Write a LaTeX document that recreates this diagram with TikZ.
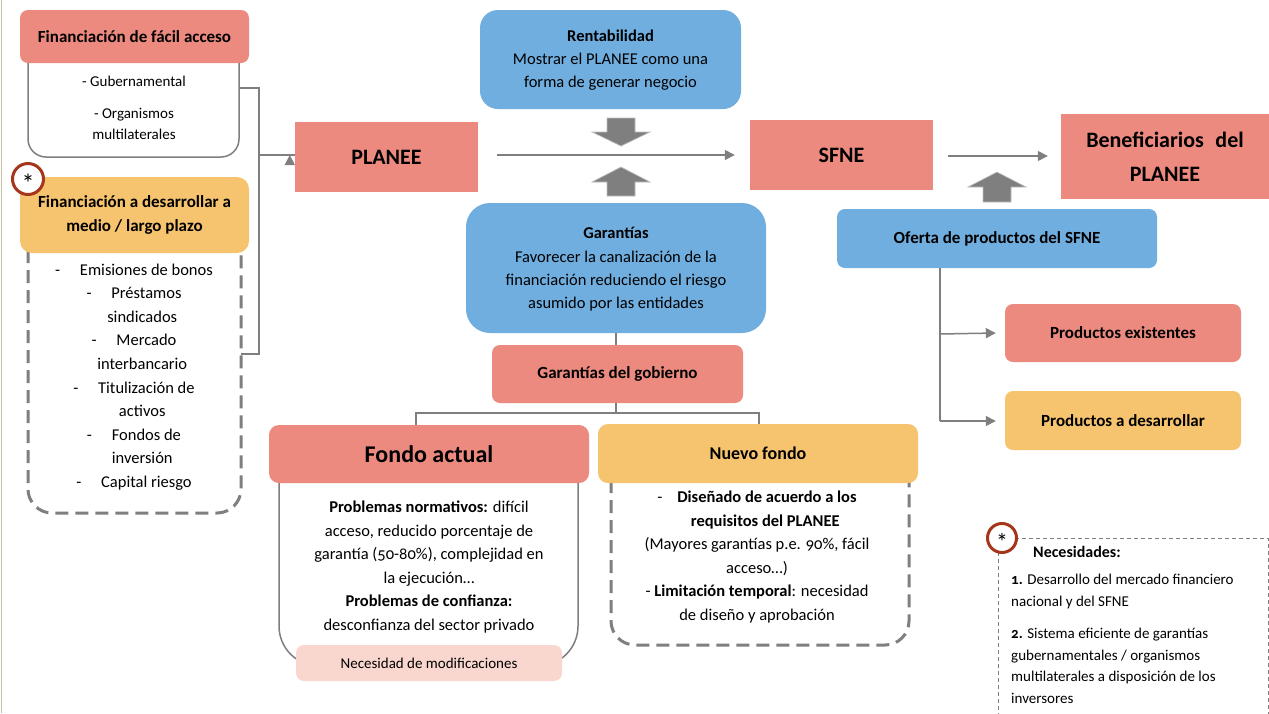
\documentclass[tikz,border=0pt]{standalone}
\usepackage{fontspec}
\setmainfont{Carlito}[Numbers=OldStyle]
\usetikzlibrary{arrows.meta}
\definecolor{cred}{HTML}{EC8A7F}
\definecolor{corange}{HTML}{F6C36F}
\definecolor{cblue}{HTML}{70AEDF}
\definecolor{cpale}{HTML}{F9D7CE}
\definecolor{cgray}{HTML}{7F7F7F}
\definecolor{cring}{HTML}{A5361B}
\definecolor{ctan}{HTML}{C9C0A0}
\newcommand{\fs}[2]{\fontsize{#1}{#2}\selectfont}
\tikzset{
 x=1pt,y=-1pt,
 box/.style={rounded corners=#1,inner sep=0pt,align=center,text=black},
 box/.default=8pt,
 wire/.style={draw=cgray,line width=1.5pt},
 arrowwire/.style={wire,-{Triangle[length=10pt,width=10pt,fill=cgray]}},
 solidpanel/.style={draw=cgray,line width=1.5pt,rounded corners=18pt},
 dashpanel/.style={draw=cgray,line width=3pt,dash pattern=on 13pt off 7pt,rounded corners=24pt},
 blockarrow/.style={fill=cgray,draw=black!25,line width=0.7pt},
 ring/.style={circle,draw=cring,line width=3pt,fill=white,minimum size=31pt,inner sep=0pt},
 txt/.style={inner sep=0pt,align=center,text=black,font=\fs{15}{23.5}},
}
\begin{document}
\begin{tikzpicture}
\useasboundingbox[fill=white] (0,0) rectangle (1269,713);
\draw[ctan,line width=1.5pt] (1.5,0) -- (1.5,713);

% panels behind headers
\draw[solidpanel] (28,60) -- (28,157) -- (239,157) -- (239,60);
\draw[dashpanel] (28,250) -- (28,513) -- (241,513) -- (241,250);
\draw[solidpanel,rounded corners=40pt] (279,480) -- (279,666) -- (578,666) -- (578,480);
\draw[dashpanel] (611,480) -- (611,645) -- (909,645) -- (909,480);

% left headers
\node[box,fill=cred,minimum width=229pt,minimum height=53pt,font=\bfseries\fs{17}{24}] (fa) at (134.5,36.5) {Financiación de fácil acceso};
\node[txt,font=\fs{15}{21}] (fat) at (134,81) {- Gubernamental};
\node[txt,font=\fs{15}{21}] (fat2) at (134,123.5) {- Organismos\\multilaterales};
\node[box=12pt,fill=corange,minimum width=229pt,minimum height=76pt,font=\bfseries\fs{17}{24.5}] (fd) at (134.5,215) {Financiación a desarrollar a\\medio / largo plazo};
\node[ring] (r1) at (28,179) {};
\node[font=\fs{26}{26},inner sep=0pt] (s1) at (28,183) {*};
\node[txt,font=\fs{16.5}{23.6}] (fdt) at (134,377) {-\hspace{1.2em}Emisiones de bonos\\-\hspace{1.2em}Préstamos\\\hspace{1em}sindicados\\-\hspace{1.2em}Mercado\\\hspace{1em}interbancario\\-\hspace{1.2em}Titulización de\\\hspace{1em}activos\\-\hspace{1.2em}Fondos de\\\hspace{1em}inversión\\-\hspace{1.2em}Capital riesgo};

% main row
\node[box=0pt,fill=cred,minimum width=183pt,minimum height=70pt,font=\bfseries\fs{22}{26}] (pl) at (386.5,157) {PLANEE};
\node[box=0pt,fill=cred,minimum width=183pt,minimum height=70pt,font=\bfseries\fs{22}{26}] (sf) at (841.5,155) {SFNE};
\node[box=0pt,fill=cred,minimum width=208pt,minimum height=85pt,font=\bfseries\fs{22}{34}] (be) at (1165,156.5) {Beneficiarios\hspace{.3em} del\\PLANEE};

% bracket
\coordinate (b1) at (239,88);
\coordinate (b2) at (259,88);
\coordinate (b3) at (259,354);
\coordinate (b4) at (241,354);
\coordinate (b5) at (259,155);
\draw[wire] (b1) -- (b2) -- (b3) -- (b4);
\draw[arrowwire] (b5) -- (pl.west |- b5) ++(-5,0);
\coordinate (p1) at (497,155);
\coordinate (s2) at (948,156);
\draw[arrowwire] (p1) -- ([xshift=-15pt]sf.west |- p1);
\draw[arrowwire] (s2) -- ([xshift=-13pt]be.west |- s2);

% blue centre
\node[box=18pt,fill=cblue,minimum width=261pt,minimum height=99pt] (re) at (610.5,59.5) {};
\node[txt,font=\fs{16.5}{23}] (ret) at (610.5,60) {{\bfseries Rentabilidad}\\Mostrar el PLANEE como una\\forma de generar negocio};
\node[box=24pt,fill=cblue,minimum width=300pt,minimum height=130pt] (ga) at (616,268) {};
\node[txt,font=\fs{16.5}{23.4}] (gat) at (616,269.5) {{\bfseries Garantías}\\Favorecer la canalización de la\\financiación reduciendo el riesgo\\asumido por las entidades};
\draw[blockarrow] (607,118) -- (635,118) -- (635,132) -- (650,132) -- (621,146) -- (592,132) -- (607,132) -- cycle;
\draw[blockarrow] (607,196) -- (635,196) -- (635,182) -- (650,182) -- (621,167) -- (592,182) -- (607,182) -- cycle;

% garantias tree
\node[box,fill=cred,minimum width=251pt,minimum height=58pt,font=\bfseries\fs{17}{24}] (gg) at (617.5,374) {Garantías del gobierno};
\node[box=10pt,fill=cred,minimum width=320pt,minimum height=58pt,font=\bfseries\fs{24}{28}] (fo) at (429,454) {Fondo actual};
\node[box=10pt,fill=corange,minimum width=320pt,minimum height=59pt,font=\bfseries\fs{18}{24}] (nf) at (758,453.5) {Nuevo fondo};
\coordinate (t1) at (416,413);
\coordinate (t2) at (759,413);
\coordinate (t0) at (616,413);
\draw[wire] (ga.south -| t0) -- (gg.north -| t0);
\draw[wire] (gg.south -| t0) -- (t0);
\draw[wire] (t1 |- fo.north) -- (t1) -- (t2) -- (t2 |- nf.north);

\node[txt,font=\fs{16.5}{23.5}] (fot) at (429,567) {{\bfseries Problemas normativos:} difícil\\acceso, reducido porcentaje de\\garantía (50-80\%), complejidad en\\la ejecución…\\{\bfseries Problemas de confianza:}\\desconfianza del sector privado};
\node[box,fill=cpale,minimum width=266pt,minimum height=36pt,font=\fs{15}{20}] (ne) at (429,663) {Necesidad de modificaciones};
\node[txt,font=\fs{16.5}{23.5}] (nft) at (757,557) {-\hspace{.9em}{\bfseries Diseñado de acuerdo a los}\\{\bfseries \hspace{1em}requisitos del PLANEE}\\(Mayores garantías p.e. 90\%, fácil\\acceso…)\\- {\bfseries Limitación temporal}: necesidad\\de diseño y aprobación};

% right
\node[box,fill=cblue,minimum width=320pt,minimum height=59pt,font=\bfseries\fs{17}{24}] (of) at (997,238.5) {Oferta de productos del SFNE};
\draw[blockarrow] (983,202) -- (1011,202) -- (1011,187) -- (1026,187) -- (997,172) -- (968,187) -- (983,187) -- cycle;
\node[box,fill=cred,minimum width=236pt,minimum height=58pt,font=\bfseries\fs{17}{24}] (pe) at (1123,333) {Productos existentes};
\node[box,fill=corange,minimum width=236pt,minimum height=59pt,font=\bfseries\fs{17}{24}] (pd) at (1123,420.5) {Productos a desarrollar};
\coordinate (v0) at (940,268);
\coordinate (v1) at (940,334);
\coordinate (v2) at (940,421);
\draw[wire] (v0) -- (v2);
\draw[arrowwire] (v1) -- ([xshift=-9pt]pe.west);
\draw[arrowwire] (v2) -- ([xshift=-9pt]pd.west |- v2);

% needs
\draw[draw=cgray,line width=1pt,dash pattern=on 4pt off 3pt] (998,717) -- (998,538) -- (1268,538) -- (1268,717);
\node[ring,minimum size=29pt] (r2) at (1002,538) {};
\node[font=\fs{24}{24},inner sep=0pt] (s2t) at (1002,542) {*};
\node[anchor=west,inner sep=0pt,font=\bfseries\fs{16}{20}] (ne1) at (1033,552) {Necesidades:};
\node[anchor=north west,inner sep=0pt,align=left,font=\fs{15}{22}] (ne2) at (1011,574) {{\bfseries 1.} Desarrollo del mercado financiero\\nacional y del SFNE};
\node[anchor=north west,inner sep=0pt,align=left,font=\fs{15}{21.5}] (ne3) at (1011,628) {{\bfseries 2.} Sistema eficiente de garantías\\gubernamentales / organismos\\multilaterales a disposición de los\\inversores};
\end{tikzpicture}
\end{document}
